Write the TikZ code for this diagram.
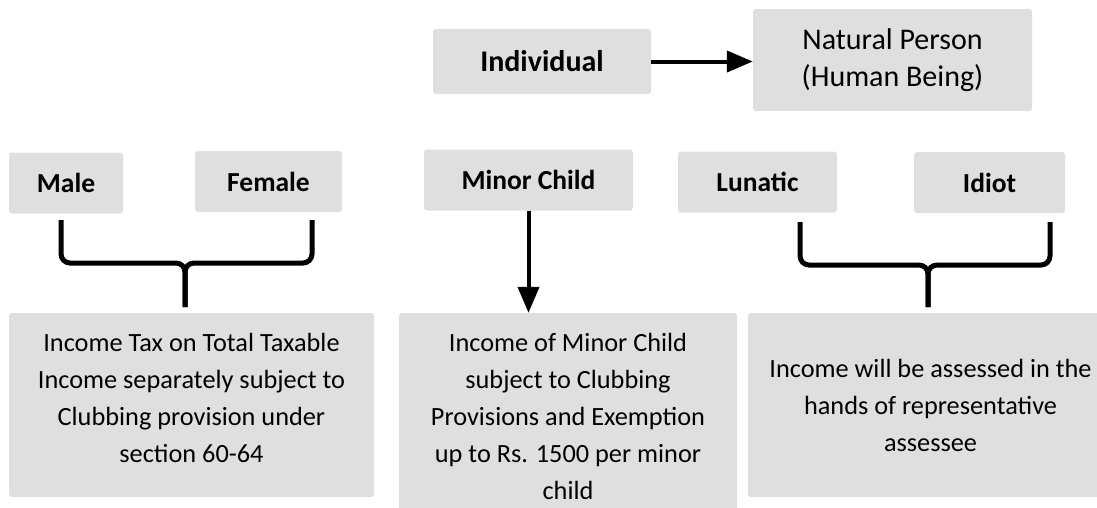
\documentclass[tikz,border=0pt]{standalone}
\usepackage{fontspec}
\setmainfont{Carlito}
\usetikzlibrary{arrows.meta,calc}
\definecolor{boxFill}{HTML}{DFDFDF}
\definecolor{ink}{HTML}{000000}
\newcommand{\toplabel}{\fontsize{30}{37}\selectfont}
\newcommand{\kindlabel}{\fontsize{27.5}{37}\selectfont\bfseries}
\newcommand{\notetext}{\fontsize{26.3}{37}\selectfont}

\begin{document}
\begin{tikzpicture}[
    x=1pt, y=-1pt,
    >={Triangle[length=26pt,width=21pt]},
    every node/.style={text=ink},
    greybox/.style={
        rectangle, rounded corners=3pt, fill=boxFill, draw=none,
        align=center, inner sep=0pt,
    },
    kindbox/.style={greybox, font=\kindlabel, minimum height=61pt},
    notebox/.style={greybox, font=\notetext},
    arr/.style={->, line width=4pt, draw=ink},
    bracket/.style={line width=5pt, draw=ink, rounded corners=9pt},
]

\useasboundingbox (0,0) rectangle (1097,507);
\clip (0,0) rectangle (1097,507);

% --- Top row: Individual -> Natural Person ---
\node[greybox, font=\toplabel\bfseries, minimum width=218pt, minimum height=65pt]
    (individual) at (542,61.5) {Individual};
\node[greybox, font=\toplabel, minimum width=279pt, minimum height=102pt]
    (natural) at (892.5,60) {Natural Person\\(Human Being)};

\draw[arr] (individual.east) -- (individual.east -| natural.west);

% --- Second row: kinds of individual ---
\node[kindbox, minimum width=114pt] (male)    at (66,183)     {Male};
\node[kindbox, minimum width=147pt] (female)  at (268.5,181.5) {Female};
\node[kindbox, minimum width=209pt] (minor)   at (528.5,180)  {Minor Child};
\node[kindbox, minimum width=159pt] (lunatic) at (757.5,182)  {Lunatic};
\node[kindbox, minimum width=151pt] (idiot)   at (989.5,182.5) {Idiot};

% --- Bottom row: tax treatment ---
\node[notebox, minimum width=365pt, minimum height=184pt]
    (taxbox) at (191.5,405) {Income Tax on Total Taxable\\
    Income separately subject to\\
    Clubbing provision under\\
    section 60-64\par\vspace{14pt}};
\node[notebox, minimum width=338pt, minimum height=207pt]
    (minorbox) at (568,416.5) {Income of Minor Child\\
    subject to Clubbing\\
    Provisions and Exemption\\
    up to Rs. 1500 per minor\\
    child};
\node[notebox, minimum width=365pt, minimum height=184pt]
    (reprbox) at (930.5,405) {Income will be assessed in the\\
    hands of representative\\
    assessee};

% --- Brace ends ---
\coordinate (maletop)    at (61,220);
\coordinate (femaletop)  at (312,220);
\coordinate (leftjoin)   at (185,263);
\coordinate (lefttip)    at (185,307);
\coordinate (lunatictop) at (800,222);
\coordinate (idiottop)   at (1050,222);
\coordinate (rightjoin)  at (928,265);
\coordinate (righttip)   at (928,307);

% --- Male / Female brace ---
\draw[bracket] (maletop) |- (leftjoin) -- (lefttip);
\draw[bracket] (femaletop) |- (leftjoin) -- (lefttip);

% --- Lunatic / Idiot brace ---
\draw[bracket] (lunatictop) |- (rightjoin) -- (righttip);
\draw[bracket] (idiottop) |- (rightjoin) -- (righttip);

% --- Minor child arrow ---
\draw[arr] (minor.south) -- (minor.south |- minorbox.north);

\end{tikzpicture}
\end{document}
